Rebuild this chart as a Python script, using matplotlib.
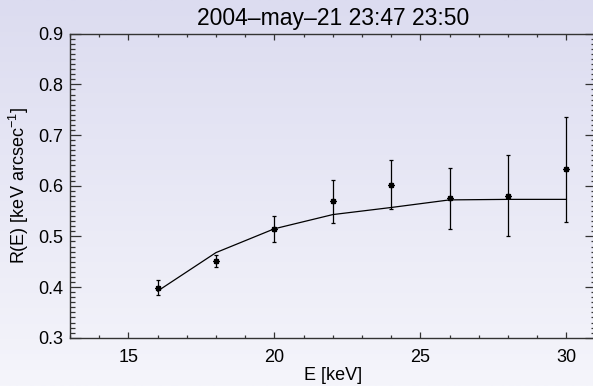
import numpy as np
import matplotlib
matplotlib.use("Agg")
import matplotlib.pyplot as plt
from matplotlib.ticker import MultipleLocator
from matplotlib.colors import LinearSegmentedColormap

plt.rcParams['font.family'] = ['Liberation Sans', 'DejaVu Sans']
plt.rcParams['mathtext.fontset'] = 'custom'
plt.rcParams['mathtext.rm'] = 'Liberation Sans'
plt.rcParams['mathtext.it'] = 'Liberation Sans:italic'

# data
energy = [16, 18, 20, 22, 24, 26, 28, 30]
r_obs = [0.399, 0.452, 0.515, 0.569, 0.602, 0.575, 0.580, 0.632]
r_err = [0.014, 0.012, 0.026, 0.042, 0.048, 0.060, 0.080, 0.103]
r_fit = [0.392, 0.468, 0.515, 0.543, 0.557, 0.572, 0.573, 0.573]
title = "2004\u2013may\u201321 23:47 23:50"

W, H = 593, 386
fig = plt.figure(figsize=(W / 100, H / 100), dpi=100)

# background gradient, lavender at the top to near white at the bottom
bg = fig.add_axes([0, 0, 1, 1], zorder=-10)
cmap = LinearSegmentedColormap.from_list("bg", ["#f5f5fb", "#dcdcf0"])
bg.imshow(np.linspace(0, 1, 256)[:, None], aspect="auto", cmap=cmap,
          origin="lower", extent=[0, 1, 0, 1])
bg.set_axis_off()

left, right, top, bottom = 70, 595.6, 33.7, 337.7
ax = fig.add_axes([left / W, 1 - bottom / H, (right - left) / W, (bottom - top) / H])
ax.patch.set_alpha(0)

ax.plot(energy, r_fit, color="black", lw=0.9)
ax.errorbar(energy, r_obs, yerr=r_err, fmt="none", ecolor="black",
            elinewidth=0.9, capsize=1.6, capthick=0.9)
ax.plot(energy, r_obs, ls="none", marker=(8, 2, 0), ms=4.5, mew=1.0, color="black")

ax.set_xlim(13, 31)
ax.set_ylim(0.3, 0.9)
ax.xaxis.set_major_locator(MultipleLocator(5))
ax.xaxis.set_minor_locator(MultipleLocator(1))
ax.yaxis.set_major_locator(MultipleLocator(0.1))
ax.yaxis.set_minor_locator(MultipleLocator(0.01))
ax.yaxis.set_major_formatter(plt.FormatStrFormatter("%.1f"))

for s in ax.spines.values():
    s.set_color("#333333")
    s.set_linewidth(1.0)

ax.tick_params(axis="both", which="both", direction="in", top=True, right=True,
               color="#333333", width=0.9, labelsize=13)
ax.tick_params(axis="x", which="major", length=4.3, pad=8)
ax.tick_params(axis="x", which="minor", length=2.2)
ax.tick_params(axis="y", which="major", length=7.6, pad=5)
ax.tick_params(axis="y", which="minor", length=3.8)

ax.set_xlabel("E [keV]", fontsize=13, labelpad=1)
ax.set_ylabel(r"R(E) [keV arcsec$^{-1}$]", fontsize=13, labelpad=5)
ax.set_title(title, fontsize=16.5, pad=6)

fig.savefig("out.png", dpi=100)
